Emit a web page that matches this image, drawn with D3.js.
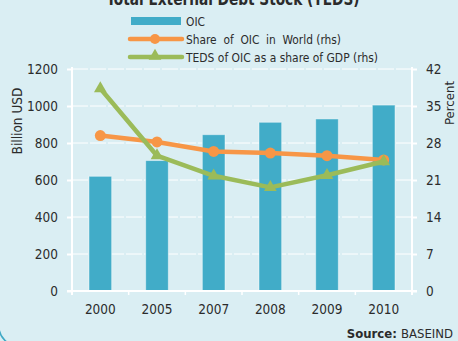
<!DOCTYPE html>
<html>
<head>
<meta charset="utf-8">
<script src="https://cdn.jsdelivr.net/npm/d3@7"></script>
<style>
  html, body { margin: 0; padding: 0; background: #daeef3; }
  svg { display: block; }
  text { font-family: "Liberation Sans Narrow", "DejaVu Sans Condensed", "Roboto", sans-serif; fill: #2b2b2b; }
</style>
</head>
<body>
<svg id="chart" width="458" height="341"></svg>
<script>
// Total External Debt Stock of OIC countries
const years = ["2000", "2005", "2007", "2008", "2009", "2010"];
const tedsBillionUSD = [620, 705, 845, 912, 930, 1005];
const shareOfWorld = [29.4, 28.2, 26.4, 26.1, 25.6, 24.8];
const tedsShareOfGDP = [38.3, 25.6, 21.8, 19.6, 21.9, 24.5];
const leftTicks = [0, 200, 400, 600, 800, 1000, 1200];
const rightTicks = [0, 7, 14, 21, 28, 35, 42];

const colors = { bar: "#41acc8", orange: "#f79646", green: "#9bbb59", grid: "#ffffff" };

const svg = d3.select("#chart");
const W = 458, H = 341;
const m = { left: 72, right: 46, top: 69, bottom: 50 };
const x0 = m.left, x1 = W - m.right, yTop = m.top, yBot = H - m.bottom;

svg.append("rect").attr("width", W).attr("height", H).attr("fill", "#daeef3");

// rounded panel frame (only its lower-left corner falls inside the view)
svg.append("rect")
  .attr("x", -1.2).attr("y", -30).attr("width", W + 60).attr("height", 376)
  .attr("rx", 20).attr("ry", 20)
  .attr("fill", "none").attr("stroke", "#3fa9c5").attr("stroke-width", 1.5);

const x = d3.scaleBand().domain(years).range([x0, x1]).paddingInner(0.6).paddingOuter(0.3);
const xb = d3.scaleBand().domain(years).range([x0, x1]);
const yL = d3.scaleLinear().domain([0, 1200]).range([yBot, yTop]);
const yR = d3.scaleLinear().domain([0, 42]).range([yBot, yTop]);

// title (runs past the top of the panel)
svg.append("text").attr("x", 233).attr("y", 5).attr("text-anchor", "middle")
  .attr("font-size", 17).attr("font-weight", "bold")
  .attr("textLength", 253).attr("lengthAdjust", "spacingAndGlyphs")
  .text("Total External Debt Stock (TEDS)");

// gridlines
svg.append("g").selectAll("line").data(leftTicks.slice(1)).join("line")
  .attr("x1", x0).attr("x2", x1)
  .attr("y1", d => yL(d)).attr("y2", d => yL(d))
  .attr("stroke", colors.grid).attr("stroke-width", 1).attr("stroke-dasharray", "16,2");

// bars
svg.append("g").selectAll("rect").data(years).join("rect")
  .attr("x", d => x(d)).attr("width", x.bandwidth())
  .attr("y", (d, i) => yL(tedsBillionUSD[i]))
  .attr("height", (d, i) => yBot - yL(tedsBillionUSD[i]))
  .attr("fill", colors.bar)
  .attr("stroke", "rgba(255,255,255,0.45)").attr("stroke-width", 1);

const fmt = d3.format("d");

// left axis
const gL = svg.append("g").attr("transform", `translate(${x0},0)`)
  .call(d3.axisLeft(yL).tickValues(leftTicks).tickFormat(fmt).tickSize(5).tickPadding(9));
gL.select(".domain").attr("stroke", "#fff").attr("stroke-width", 2).attr("d", `M0,${yTop - 2}V${yBot + 4}`);
gL.selectAll(".tick line").attr("stroke", "#fff").attr("stroke-width", 2);
gL.selectAll(".tick text").attr("font-size", 13.5).attr("fill", "#2b2b2b")
  .style("font-family", "'Liberation Sans Narrow','DejaVu Sans Condensed',sans-serif");

// right axis
const gR = svg.append("g").attr("transform", `translate(${x1},0)`)
  .call(d3.axisRight(yR).tickValues(rightTicks).tickFormat(fmt).tickSize(5).tickPadding(9));
gR.select(".domain").attr("stroke", "#fff").attr("stroke-width", 2).attr("d", `M0,${yTop - 2}V${yBot + 4}`);
gR.selectAll(".tick line").attr("stroke", "#fff").attr("stroke-width", 2);
gR.selectAll(".tick text").attr("font-size", 13.5).attr("fill", "#2b2b2b")
  .style("font-family", "'Liberation Sans Narrow','DejaVu Sans Condensed',sans-serif");

// bottom axis with ticks at category boundaries
svg.append("line").attr("x1", x0 - 5).attr("x2", x1 + 5).attr("y1", yBot).attr("y2", yBot)
  .attr("stroke", "#fff").attr("stroke-width", 2);
const bounds = years.map(d => xb(d)).concat([xb(years[years.length - 1]) + xb.bandwidth()]);
svg.append("g").selectAll("line").data(bounds).join("line")
  .attr("x1", d => d).attr("x2", d => d).attr("y1", yBot).attr("y2", yBot + 4)
  .attr("stroke", "#fff").attr("stroke-width", 1.5);
svg.append("g").selectAll("text").data(years).join("text")
  .attr("x", d => xb(d) + xb.bandwidth() / 2).attr("y", yBot + 23)
  .attr("text-anchor", "middle").attr("font-size", 13.5).text(d => d);

// axis titles
svg.append("text").attr("transform", "translate(22,121) rotate(-90)")
  .attr("text-anchor", "middle").attr("font-size", 13.5).text("Billion USD");
svg.append("text").attr("transform", "translate(454,103) rotate(-90)")
  .attr("text-anchor", "middle").attr("font-size", 13).text("Percent");

const cx = d => xb(d) + xb.bandwidth() / 2;
const line = d3.line().x(d => d[0]).y(d => d[1]);
const tri = d3.symbol().type(d3.symbolTriangle).size(70);

// share of OIC in world
svg.append("path").datum(years.map((d, i) => [cx(d), yR(shareOfWorld[i])]))
  .attr("d", line).attr("fill", "none").attr("stroke", colors.orange).attr("stroke-width", 4.5)
  .attr("stroke-linejoin", "round");
svg.append("g").selectAll("circle").data(years).join("circle")
  .attr("cx", cx).attr("cy", (d, i) => yR(shareOfWorld[i])).attr("r", 5.5)
  .attr("fill", colors.orange);

// TEDS as share of GDP
svg.append("path").datum(years.map((d, i) => [cx(d), yR(tedsShareOfGDP[i])]))
  .attr("d", line).attr("fill", "none").attr("stroke", colors.green).attr("stroke-width", 4.5)
  .attr("stroke-linejoin", "round");
svg.append("g").selectAll("path").data(years).join("path")
  .attr("d", tri)
  .attr("transform", (d, i) => `translate(${cx(d)},${yR(tedsShareOfGDP[i])})`)
  .attr("fill", colors.green);

// legend
const lg = svg.append("g");
lg.append("rect").attr("x", 131).attr("y", 17).attr("width", 50).attr("height", 8).attr("fill", colors.bar);
lg.append("text").attr("x", 186).attr("y", 26).attr("font-size", 13)
  .attr("textLength", 19).attr("lengthAdjust", "spacingAndGlyphs").text("OIC");

lg.append("line").attr("x1", 130).attr("x2", 182).attr("y1", 39).attr("y2", 39)
  .attr("stroke", colors.orange).attr("stroke-width", 4.5).attr("stroke-linecap", "round");
lg.append("circle").attr("cx", 155).attr("cy", 39).attr("r", 5).attr("fill", colors.orange);
lg.append("text").attr("x", 186).attr("y", 44).attr("font-size", 13)
  .attr("textLength", 155).attr("lengthAdjust", "spacingAndGlyphs")
  .style("white-space", "pre").text("Share  of  OIC  in  World (rhs)");

lg.append("line").attr("x1", 130).attr("x2", 182).attr("y1", 57).attr("y2", 57)
  .attr("stroke", colors.green).attr("stroke-width", 4.5).attr("stroke-linecap", "round");
lg.append("path").attr("d", tri).attr("transform", "translate(155,56)").attr("fill", colors.green);
lg.append("text").attr("x", 186).attr("y", 62).attr("font-size", 13)
  .attr("textLength", 192).attr("lengthAdjust", "spacingAndGlyphs")
  .text("TEDS of OIC as a share of GDP (rhs)");

// source note
const src = svg.append("text").attr("x", 453).attr("y", 338).attr("text-anchor", "end").attr("font-size", 13);
src.append("tspan").attr("font-weight", "bold").text("Source: ");
src.append("tspan").text("BASEIND");
</script>
</body>
</html>
